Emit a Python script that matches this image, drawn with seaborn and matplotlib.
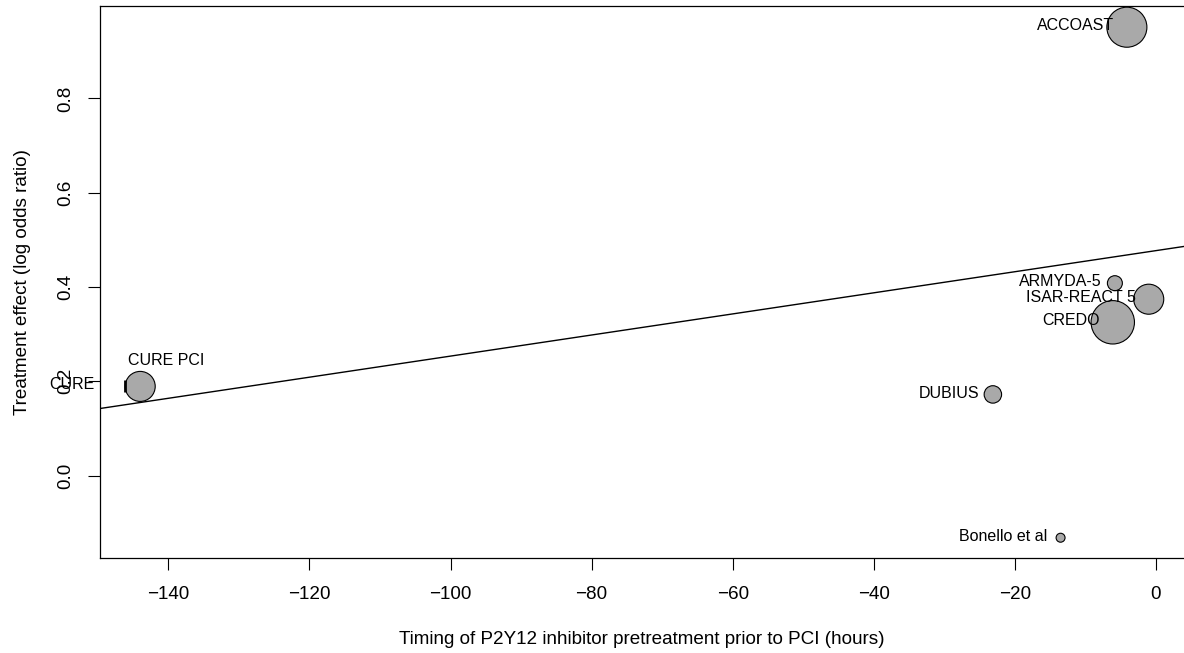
import pandas as pd
import matplotlib
matplotlib.use('Agg')
import matplotlib.pyplot as plt
import seaborn as sns

# study data
studies = ['ACCOAST', 'ARMYDA-5', 'ISAR-REACT 5', 'CREDO', 'DUBIUS', 'Bonello et al', 'CURE PCI']
timing = [-4.1, -5.8, -1.0, -6.1, -23.1, -13.5, -144.0]
effect = [0.951, 0.408, 0.374, 0.325, 0.172, -0.132, 0.189]
weight = [400, 56, 225, 470, 76, 20, 225]

# CURE itself sits at the left edge, only its label and a tick show
cure_x = [-146.2]
cure_y = [0.189]

# meta-regression line
intercept = 0.477
slope = 0.002237

df = pd.DataFrame({'study': studies, 'timing': timing, 'effect': effect, 'weight': weight})

sns.set_style('ticks')
plt.rcParams['font.family'] = ['Liberation Sans', 'DejaVu Sans']
plt.rcParams['text.color'] = 'black'
plt.rcParams['axes.labelcolor'] = 'black'
plt.rcParams['xtick.color'] = 'black'
plt.rcParams['ytick.color'] = 'black'

fig = plt.figure(figsize=(11.84, 6.53), dpi=100)
ax = fig.add_axes([100 / 1184, 95 / 653, 1084 / 1184, 552 / 653])

max_area = (1.44 * 21.7) ** 2
sns.scatterplot(data=df, x='timing', y='effect', size='weight',
                sizes=(0, max_area), size_norm=(0, max(weight)),
                color='#A9A9A9', edgecolor='black', linewidth=0.8,
                legend=False, ax=ax, zorder=3)

ax.axline((0, intercept), slope=slope, color='black', linewidth=1, zorder=2)

ax.plot(cure_x, cure_y, marker='|', markersize=9, markeredgewidth=2,
        color='black', linestyle='none', zorder=4)

lab_size = 11.5
for s, x, y in zip(studies, timing, effect):
    if s == 'CURE PCI':
        ax.annotate(s, (x, y), xytext=(18.7, 18.7), textcoords='offset points',
                    ha='center', va='center', fontsize=lab_size)
    else:
        ax.annotate(s, (x, y), xytext=(-9.4, 1), textcoords='offset points',
                    ha='right', va='center', fontsize=lab_size, zorder=5)

ax.annotate('CURE', (cure_x[0], cure_y[0]), xytext=(-21.6, 1.4), textcoords='offset points',
            ha='right', va='center', fontsize=lab_size, annotation_clip=False)

ax.set_xlim(-149.7, 4.0)
ax.set_ylim(-0.175, 0.996)
ax.set_xticks([-140, -120, -100, -80, -60, -40, -20, 0])
ax.set_yticks([0.0, 0.2, 0.4, 0.6, 0.8])
ax.set_yticklabels(['0.0', '0.2', '0.4', '0.6', '0.8'], rotation=90, va='center')
ax.tick_params(axis='both', length=8.5, width=0.8, labelsize=13.6, direction='out')
ax.tick_params(axis='x', pad=12)
ax.tick_params(axis='y', pad=10)

ax.spines['right'].set_visible(False)
for sp in ['left', 'bottom', 'top']:
    ax.spines[sp].set_linewidth(0.9)
    ax.spines[sp].set_color('black')

ax.set_xlabel('Timing of P2Y12 inhibitor pretreatment prior to PCI (hours)', fontsize=13.6, labelpad=20)
ax.set_ylabel('Treatment effect (log odds ratio)', fontsize=13.6, labelpad=19)

plt.savefig('out.png', dpi=100)
plt.close()
